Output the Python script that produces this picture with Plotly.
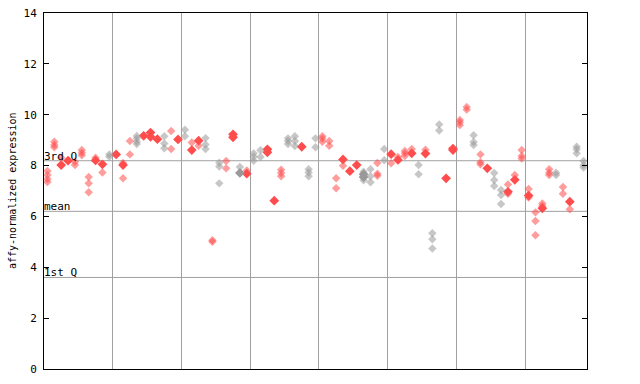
import plotly.graph_objects as go

# Expression values per sample column (hollow replicate markers)
values = [
    [7.79, 7.63, 7.47, 7.35], [8.94, 8.81, 8.72], [8.31], [], [8.15, 8.02],
    [8.61, 8.50, 8.41], [7.55, 7.30, 6.95], [8.31], [7.73], [8.44, 8.35],
    [], [8.10, 7.50], [8.97, 8.44], [9.16, 9.06, 8.94, 8.85], [],
    [], [], [9.15, 8.87, 8.68], [9.36, 8.65], [],
    [9.41, 9.15], [8.91], [8.78], [9.08, 8.83, 8.65], [5.06, 5.00],
    [8.11, 7.96, 7.30], [8.18, 7.89], [], [7.94], [7.81],
    [8.48, 8.35, 8.19], [8.60, 8.34], [], [], [7.84, 7.71, 7.58],
    [9.07, 8.97, 8.85], [9.15, 8.97, 8.77], [], [7.86, 7.73, 7.58], [9.07, 8.72],
    [9.15, 9.06, 8.94], [8.97, 8.78], [7.50, 7.11], [7.99], [],
    [], [7.76, 7.42], [7.86, 7.58, 7.34], [8.10, 7.68, 7.60], [8.65, 8.21],
    [8.09], [8.34], [8.57, 8.48, 8.38], [8.65], [8.02, 7.66],
    [8.62], [5.34, 5.10, 4.74], [9.62, 9.38], [], [],
    [9.79, 9.70, 9.59], [10.30, 10.20], [9.19, 8.93, 8.81], [8.44, 8.13, 8.05], [],
    [7.71, 7.43, 7.20], [7.04, 6.84, 6.49], [7.26, 6.89], [7.63], [8.61, 8.38, 8.28],
    [7.08, 6.74], [6.16, 5.82, 5.26], [6.51, 6.41], [7.86, 7.72, 7.63], [7.72, 7.63],
    [7.16, 6.89], [6.28], [8.74, 8.64, 8.48], [8.18, 8.02, 7.92],
]

# Overlapping replicates (drawn as solid markers)
solid = [
    [], [], [8.02], [8.19], [], [], [], [8.20], [8.05], [],
    [8.44], [8.02], [], [], [9.17], [9.30, 9.13], [9.04], [], [], [9.03],
    [], [8.61], [8.98], [], [], [], [], [9.23, 9.11], [7.71], [7.68],
    [], [], [8.64, 8.52], [6.62], [], [], [], [8.74], [], [],
    [], [], [], [8.24], [7.78], [8.02], [7.66, 7.55], [], [], [],
    [8.45], [8.22], [], [8.48], [], [8.47], [], [], [7.50], [8.67, 8.61],
    [], [], [], [], [7.89], [], [], [6.97], [7.44], [],
    [6.82], [], [6.32], [], [], [], [6.58], [], [],
]

# Colour group per column: r = red, g = grey
col_group = list(
    "rrrrrrrrrg"
    "rrrgrrrgrr"
    "grrgrgrrgr"
    "ggrrrggrgg"
    "rrrrrrggrg"
    "rrrrgrggrr"
    "rrgrrggrrr"
    "rrrrgrrgg"
)

ref_levels = [8.19, 6.2, 3.6]
ref_labels = ["3rd Q", "mean", "1st Q"]
y_ticks = [0, 2, 4, 6, 8, 10, 12, 14]

RED = "#ff4d4d"
GREY = "#999999"

fig = go.Figure()

for grp, color in (("r", RED), ("g", GREY)):
    hx, hy, sx, sy = [], [], [], []
    for i, g in enumerate(col_group):
        if g != grp:
            continue
        for v in values[i]:
            hx.append(i)
            hy.append(v)
        for v in solid[i]:
            sx.append(i)
            sy.append(v)
    fig.add_trace(go.Scatter(
        x=hx, y=hy, mode="markers",
        marker=dict(symbol="diamond", size=6.5, color=color, opacity=0.55,
                    line=dict(width=0)),
        showlegend=False, hoverinfo="y"))
    fig.add_trace(go.Scatter(
        x=sx, y=sy, mode="markers",
        marker=dict(symbol="diamond", size=7.5, color=color, line=dict(width=0)),
        showlegend=False, hoverinfo="y"))

n = len(col_group)
for lvl, lab in zip(ref_levels, ref_labels):
    fig.add_shape(type="line", xref="paper", yref="y", x0=0, x1=1, y0=lvl, y1=lvl,
                  line=dict(color="#a0a0a0", width=1), layer="below")
    fig.add_annotation(xref="paper", yref="y", x=0, y=lvl, text=lab, showarrow=False,
                       xanchor="left", yanchor="bottom", xshift=-2, yshift=-4,
                       font=dict(family="DejaVu Sans Mono", size=11, color="black"))

fig.add_annotation(xref="paper", yref="paper", x=-44 / 543 + 12 / 543, y=0.5,
                   text="affy-normalized expression", showarrow=False, textangle=-90,
                   xanchor="center", yanchor="middle",
                   font=dict(family="DejaVu Sans Mono", size=10, color="black"))

fig.update_layout(
    width=640, height=384,
    margin=dict(l=44, r=53, t=13, b=15),
    paper_bgcolor="white", plot_bgcolor="white",
    font=dict(family="DejaVu Sans Mono", size=11, color="black"),
    xaxis=dict(range=[-0.5, n - 0.5], tickvals=[9.5 + 10 * k for k in range(7)],
               showticklabels=False, ticks="", showgrid=True, gridcolor="#a0a0a0",
               gridwidth=1, zeroline=False, showline=True, linecolor="black",
               linewidth=1, mirror=True, automargin=False),
    yaxis=dict(range=[0, 14], tickvals=y_ticks, ticks="inside", ticklen=5,
               tickcolor="black", showgrid=False, zeroline=False, showline=True,
               linecolor="black", linewidth=1, mirror="ticks", automargin=False,
               ticklabelstandoff=4),
)

fig.write_html("out.html")
